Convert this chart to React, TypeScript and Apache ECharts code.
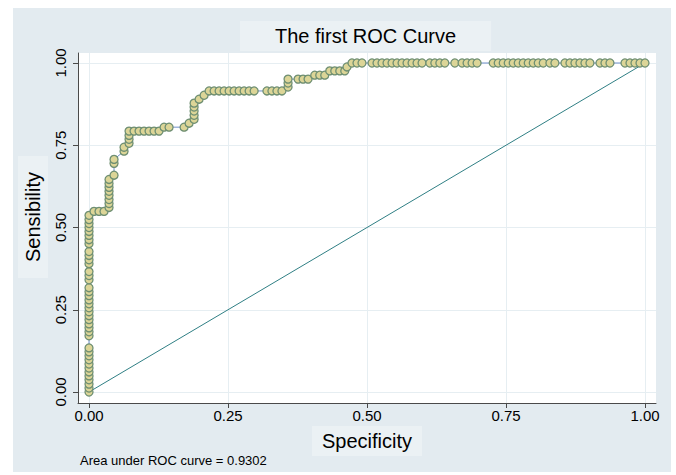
import React, { useEffect, useRef } from "react";
import * as echarts from "echarts";

// ROC curve points (x axis labelled "Specificity", y axis "Sensibility")
const rocX: number[] = [
  0, 0, 0, 0, 0, 0, 0, 0, 0, 0, 0, 0,
  0, 0, 0, 0, 0, 0, 0, 0, 0, 0, 0, 0, 0,
  0, 0, 0,
  0, 0, 0, 0,
  0, 0, 0, 0, 0, 0, 0, 0,
  0.009, 0.018, 0.027,
  0.036, 0.036, 0.036, 0.036, 0.036, 0.036, 0.036, 0.036,
  0.045, 0.045, 0.045,
  0.063, 0.063, 0.072, 0.072, 0.072, 0.072,
  0.081, 0.09, 0.099, 0.108, 0.117, 0.126,
  0.135, 0.144, 0.171, 0.18,
  0.189, 0.189, 0.189, 0.189, 0.189,
  0.198, 0.207, 0.216,
  0.225, 0.234, 0.243, 0.252, 0.261, 0.27, 0.279, 0.288, 0.297,
  0.32, 0.329, 0.338, 0.347,
  0.358, 0.358, 0.358,
  0.376, 0.385, 0.394,
  0.406, 0.415, 0.424,
  0.433, 0.442, 0.451, 0.46,
  0.464, 0.473, 0.482, 0.491,
  0.509, 0.518, 0.527, 0.536, 0.545, 0.554, 0.563, 0.572, 0.581, 0.59, 0.599,
  0.613, 0.622, 0.631, 0.64,
  0.658,
  0.671, 0.68, 0.689, 0.698,
  0.727, 0.736, 0.745, 0.754, 0.763, 0.772, 0.781, 0.79, 0.799, 0.808, 0.817,
  0.829, 0.838,
  0.856, 0.865, 0.874, 0.883, 0.892, 0.901,
  0.919, 0.928, 0.937,
  0.964, 0.973, 0.982, 0.991, 1.0,
];

const rocY: number[] = [
  0, 0.012, 0.024, 0.037, 0.049, 0.061, 0.073, 0.085, 0.098, 0.11, 0.122, 0.134,
  0.171, 0.183, 0.195, 0.207, 0.22, 0.232, 0.244, 0.256, 0.268, 0.28, 0.293, 0.305, 0.317,
  0.341, 0.354, 0.366,
  0.39, 0.402, 0.415, 0.427,
  0.451, 0.463, 0.476, 0.488, 0.5, 0.512, 0.524, 0.537,
  0.549, 0.549, 0.549,
  0.561, 0.573, 0.585, 0.598, 0.61, 0.622, 0.634, 0.646,
  0.659, 0.695, 0.707,
  0.732, 0.744, 0.756, 0.768, 0.78, 0.793,
  0.793, 0.793, 0.793, 0.793, 0.793, 0.793,
  0.805, 0.805, 0.805, 0.817,
  0.829, 0.841, 0.854, 0.866, 0.878,
  0.89, 0.902, 0.915,
  0.915, 0.915, 0.915, 0.915, 0.915, 0.915, 0.915, 0.915, 0.915,
  0.915, 0.915, 0.915, 0.915,
  0.927, 0.939, 0.951,
  0.951, 0.951, 0.951,
  0.963, 0.963, 0.963,
  0.976, 0.976, 0.976, 0.976,
  0.988, 1, 1, 1,
  1, 1, 1, 1, 1, 1, 1, 1, 1, 1, 1,
  1, 1, 1, 1,
  1,
  1, 1, 1, 1,
  1, 1, 1, 1, 1, 1, 1, 1, 1, 1, 1,
  1, 1,
  1, 1, 1, 1, 1, 1,
  1, 1, 1,
  1, 1, 1, 1, 1,
];

const referenceX: number[] = [0, 1];
const referenceY: number[] = [0, 1];

const tickValues: number[] = [0, 0.25, 0.5, 0.75, 1];

const titleText = "The first ROC Curve";
const xName = "Specificity";
const yName = "Sensibility";
const noteText = "Area under ROC curve = 0.9302";

export default function App() {
  const ref = useRef<HTMLDivElement>(null);

  useEffect(() => {
    if (!ref.current) return;
    const chart = echarts.init(ref.current, null, { renderer: "svg" });
    const font = "'Liberation Sans', Arial, Helvetica, sans-serif";
    const bg = "#e3ebf0";
    const box = "#ebf1f4";
    const axisColor = "#4a4a4a";
    const gridColor = "#e6eef2";

    const rocData = rocX.map((x, i) => [x, rocY[i]]);
    const refData = referenceX.map((x, i) => [x, referenceY[i]]);

    chart.setOption({
      animation: false,
      textStyle: { fontFamily: font },
      title: {
        text: titleText,
        left: 240,
        top: 21,
        padding: [5, 35, 5, 35],
        backgroundColor: box,
        textStyle: { fontSize: 20, fontWeight: "normal", color: "#000", fontFamily: font },
      },
      graphic: [
        {
          type: "rect",
          left: 13,
          top: 8,
          shape: { width: 658, height: 464 },
          style: { fill: bg },
          z: -10,
          silent: true,
        },
        {
          type: "text",
          x: 33,
          y: 217,
          rotation: Math.PI / 2,
          style: {
            text: yName,
            fontSize: 20,
            fontFamily: font,
            fill: "#000",
            textAlign: "center",
            textVerticalAlign: "middle",
            backgroundColor: box,
            padding: [6, 16, 4, 16],
          },
          z: 5,
        },
        {
          type: "text",
          x: 367,
          y: 441,
          style: {
            text: xName,
            fontSize: 20,
            fontFamily: font,
            fill: "#000",
            textAlign: "center",
            textVerticalAlign: "middle",
            backgroundColor: box,
            padding: [5, 10, 5, 10],
          },
          z: 5,
        },
        {
          type: "text",
          x: 80,
          y: 460,
          style: {
            text: noteText,
            fontSize: 13,
            fontFamily: font,
            fill: "#000",
            textAlign: "left",
            textVerticalAlign: "middle",
          },
          z: 5,
        },
      ],
      grid: {
        left: 78,
        top: 53,
        right: 20,
        bottom: 72,
        show: true,
        backgroundColor: "#ffffff",
        borderWidth: 0,
        containLabel: false,
      },
      xAxis: {
        type: "value",
        min: -0.0198,
        max: 1.0198,
        axisLine: { show: true, onZero: false, lineStyle: { color: axisColor, width: 1 } },
        axisTick: { show: true, length: 5, customValues: tickValues, lineStyle: { color: axisColor } },
        axisLabel: {
          customValues: tickValues,
          formatter: (v: number) => v.toFixed(2),
          fontSize: 15,
          color: "#000",
          margin: 5,
          fontFamily: font,
        },
        splitLine: { show: true, lineStyle: { color: gridColor, width: 1 } },
      },
      yAxis: {
        type: "value",
        min: -0.0334,
        max: 1.0304,
        axisLine: { show: true, onZero: false, lineStyle: { color: axisColor, width: 1 } },
        axisTick: { show: true, length: 5, customValues: tickValues, lineStyle: { color: axisColor } },
        axisLabel: {
          customValues: tickValues,
          formatter: (v: number) => v.toFixed(2),
          fontSize: 15,
          color: "#000",
          rotate: 90,
          margin: 10,
          fontFamily: font,
        },
        splitLine: { show: true, lineStyle: { color: gridColor, width: 1 } },
      },
      series: [
        {
          type: "line",
          data: refData,
          showSymbol: false,
          symbol: "none",
          lineStyle: { color: "#2f7f84", width: 1 },
          z: 2,
          silent: true,
        },
        {
          type: "line",
          data: rocData,
          symbol: "circle",
          symbolSize: 8,
          showAllSymbol: true,
          itemStyle: { color: "#dcd597", borderColor: "#6f8f72", borderWidth: 1.3 },
          lineStyle: { color: "#6f8fc8", width: 1 },
          z: 3,
          silent: true,
        },
      ],
    });

    return () => {
      chart.dispose();
    };
  }, []);

  return (
    <div
      ref={ref}
      style={{ position: "absolute", left: 0, top: 0, width: 676, height: 475, background: "#ffffff" }}
    />
  );
}
